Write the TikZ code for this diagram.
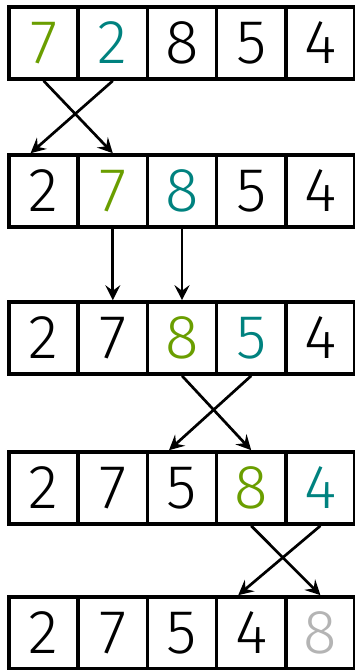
\documentclass[tikz,border=0pt]{standalone}
\usepackage{fontspec}
\setmainfont{Fira Sans Light}
\usetikzlibrary{arrows.meta,calc}
\definecolor{dgreen}{HTML}{6A9E00}
\definecolor{dteal}{HTML}{00827F}
\definecolor{dgray}{HTML}{B4B4B4}
\tikzset{
  cell/.style={draw=black, line width=3.6pt, minimum width=69.2pt, minimum height=72pt, inner sep=0pt, font=\fontsize{62}{62}\selectfont},
  arr/.style={line width=2.7pt, -{Stealth[length=15pt,width=15pt,inset=5.5pt]}}
}
\begin{document}
\begin{tikzpicture}[x=1pt,y=-1pt]
\useasboundingbox (0,0) rectangle (355,670);
\def\rowA{43}\def\rowB{191}\def\rowC{338}\def\rowD{488}\def\rowE{633}
% row 1
\node[cell] (r1c1) at (43.6,\rowA) {\textcolor{dgreen}{7}};
\node[cell] (r1c2) at (112.8,\rowA) {\textcolor{dteal}{2}};
\node[cell] (r1c3) at (182.0,\rowA) {8};
\node[cell] (r1c4) at (251.2,\rowA) {5};
\node[cell] (r1c5) at (320.4,\rowA) {4};
% row 2
\node[cell] (r2c1) at (43.6,\rowB) {2};
\node[cell] (r2c2) at (112.8,\rowB) {\textcolor{dgreen}{7}};
\node[cell] (r2c3) at (182.0,\rowB) {\textcolor{dteal}{8}};
\node[cell] (r2c4) at (251.2,\rowB) {5};
\node[cell] (r2c5) at (320.4,\rowB) {4};
% row 3
\node[cell] (r3c1) at (43.6,\rowC) {2};
\node[cell] (r3c2) at (112.8,\rowC) {7};
\node[cell] (r3c3) at (182.0,\rowC) {\textcolor{dgreen}{8}};
\node[cell] (r3c4) at (251.2,\rowC) {\textcolor{dteal}{5}};
\node[cell] (r3c5) at (320.4,\rowC) {4};
% row 4
\node[cell] (r4c1) at (43.6,\rowD) {2};
\node[cell] (r4c2) at (112.8,\rowD) {7};
\node[cell] (r4c3) at (182.0,\rowD) {5};
\node[cell] (r4c4) at (251.2,\rowD) {\textcolor{dgreen}{8}};
\node[cell] (r4c5) at (320.4,\rowD) {\textcolor{dteal}{4}};
% row 5
\node[cell] (r5c1) at (43.6,\rowE) {2};
\node[cell] (r5c2) at (112.8,\rowE) {7};
\node[cell] (r5c3) at (182.0,\rowE) {5};
\node[cell] (r5c4) at (251.2,\rowE) {4};
\node[cell] (r5c5) at (320.4,\rowE) {\textcolor{dgray}{8}};
% arrows
\draw[arr] (r1c1.south) -- (r2c2.north);
\draw[arr] (r1c2.south) -- ($(r2c1.north)+(-13,0)$);
\draw[arr] (r2c2.south) -- (r3c2.north);
\draw[arr] (r2c3.south) -- (r3c3.north);
\draw[arr] (r3c3.south) -- (r4c4.north);
\draw[arr] (r3c4.south) -- ($(r4c3.north)+(-13,0)$);
\draw[arr] (r4c4.south) -- (r5c5.north);
\draw[arr] (r4c5.south) -- ($(r5c4.north)+(-13,0)$);
\end{tikzpicture}
\end{document}
